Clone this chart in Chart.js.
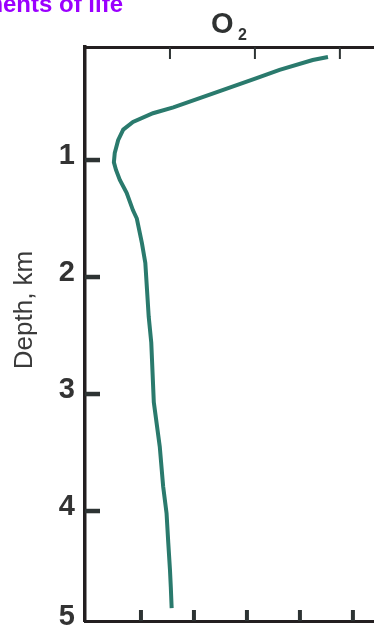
<!DOCTYPE html>
<html>
<head>
<meta charset="utf-8">
<script src="https://cdn.jsdelivr.net/npm/chart.js@4/dist/chart.umd.min.js"></script>
<style>
    html, body { margin: 0; padding: 0; overflow: hidden; background: #fff; }
    #wrap { width: 374px; height: 627px; overflow: hidden; }
</style>
</head>
<body>
<div id="wrap"><canvas id="o2Chart" width="400" height="627"></canvas></div>
<script>
// O2 profile (x: concentration, y: depth in km)
var o2Values = [2.86, 2.68, 2.29, 2.02, 1.51, 1.04, 0.80, 0.565, 0.45, 0.39, 0.35, 0.34,
    0.365, 0.41, 0.49, 0.565, 0.61, 0.67, 0.71, 0.73, 0.75, 0.78, 0.81, 0.88, 0.92, 0.96,
    0.98, 1.00, 1.01, 1.02];
var depthValues = [0.12, 0.145, 0.23, 0.30, 0.43, 0.55, 0.60, 0.675, 0.74, 0.83, 0.94, 1.02,
    1.085, 1.17, 1.28, 1.43, 1.50, 1.71, 1.88, 2.11, 2.34, 2.56, 3.07, 3.45, 3.79, 4.02,
    4.27, 4.50, 4.65, 4.83];
var depthTicks = [1, 2, 3, 4, 5];
var topTicks = [1, 2, 3];
var bottomTicks = [1, 2, 3, 4, 5];

var points = o2Values.map(function (v, i) {
    return { x: v, y: depthValues[i] };
});

// small inward tick marks + the texts around the frame
var frameExtras = {
    id: "frameExtras",
    afterDraw: function (chart) {
        var ctx = chart.ctx;
        var area = chart.chartArea;
        var sy = chart.scales.y, sx = chart.scales.x, sx2 = chart.scales.x2;
        ctx.save();
        ctx.strokeStyle = "#2d3333";

        ctx.lineWidth = 4.5;
        depthTicks.forEach(function (v) {
            if (v >= sy.max) return;
            var py = sy.getPixelForValue(v);
            ctx.beginPath();
            ctx.moveTo(area.left, py);
            ctx.lineTo(area.left + 15, py);
            ctx.stroke();
        });

        ctx.lineWidth = 2;
        topTicks.forEach(function (v) {
            var px = sx.getPixelForValue(v);
            ctx.beginPath();
            ctx.moveTo(px, area.top);
            ctx.lineTo(px, area.top + 12);
            ctx.stroke();
        });

        ctx.lineWidth = 4;
        bottomTicks.forEach(function (v) {
            var px = sx2.getPixelForValue(v);
            ctx.beginPath();
            ctx.moveTo(px, area.bottom);
            ctx.lineTo(px, area.bottom - 11);
            ctx.stroke();
        });

        // header, cut by the top-left corner
        ctx.fillStyle = "#9b00ff";
        ctx.font = "bold 24px 'Liberation Sans', Arial, sans-serif";
        ctx.textAlign = "right";
        ctx.textBaseline = "alphabetic";
        ctx.fillText("Elements of life", 123, 12);

        // O2 over the panel
        ctx.fillStyle = "#2f3232";
        ctx.font = "bold 29px 'Liberation Sans', Arial, sans-serif";
        ctx.textAlign = "left";
        ctx.fillText("O", 211, 33);
        ctx.font = "bold 16px 'Liberation Sans', Arial, sans-serif";
        ctx.fillText("2", 238, 40);

        // axis title
        ctx.fillStyle = "#3a3a3a";
        ctx.font = "26px 'Liberation Sans', Arial, sans-serif";
        ctx.translate(32, 310);
        ctx.rotate(-Math.PI / 2);
        ctx.textAlign = "center";
        ctx.fillText("Depth, km", 0, 0);
        ctx.restore();
    },
};

var ctx = document.getElementById("o2Chart").getContext("2d");
new Chart(ctx, {
    type: "scatter",
    data: {
        datasets: [
            {
                label: "O2",
                data: points,
                showLine: true,
                borderColor: "#2a7a6d",
                backgroundColor: "#2a7a6d",
                borderWidth: 4,
                pointRadius: 0,
                tension: 0,
                xAxisID: "x",
                yAxisID: "y",
            },
        ],
    },
    options: {
        responsive: false,
        animation: false,
        devicePixelRatio: 1,
        layout: { padding: { left: 0, right: 10, top: 0, bottom: 0 } },
        plugins: {
            legend: { display: false },
            tooltip: { enabled: false },
        },
        scales: {
            y: {
                type: "linear",
                position: "left",
                reverse: true,
                min: 0.034,
                max: 4.94,
                afterFit: function (s) {
                    s.width = 85;
                    s.paddingTop = 0;
                    s.paddingBottom = 0;
                },
                afterBuildTicks: function (s) {
                    s.ticks = depthTicks.map(function (v) {
                        return { value: Math.min(v, s.max) };
                    });
                },
                ticks: {
                    padding: 10,
                    labelOffset: -4,
                    color: "#333333",
                    font: { family: "'Liberation Sans', Arial, sans-serif", size: 29, weight: "bold" },
                    callback: function (v, i) { return String(depthTicks[i]); },
                },
                grid: { drawOnChartArea: false, drawTicks: false },
                border: { color: "#231f20", width: 3.5 },
            },
            x: {
                type: "linear",
                position: "top",
                min: 0,
                max: 3.59,
                afterFit: function (s) {
                    s.height = 47;
                    s.paddingLeft = 0;
                    s.paddingRight = 0;
                },
                afterBuildTicks: function (s) {
                    s.ticks = topTicks.map(function (v) { return { value: v }; });
                },
                ticks: { display: false },
                grid: { drawOnChartArea: false, drawTicks: false },
                border: { color: "#231f20", width: 3 },
            },
            x2: {
                type: "linear",
                position: "bottom",
                min: -0.056,
                max: 5.70,
                afterFit: function (s) {
                    s.height = 6;
                    s.paddingLeft = 0;
                    s.paddingRight = 0;
                },
                afterBuildTicks: function (s) {
                    s.ticks = bottomTicks.map(function (v) { return { value: v }; });
                },
                ticks: { display: false },
                grid: { drawOnChartArea: false, drawTicks: false },
                border: { color: "#231f20", width: 3 },
            },
        },
    },
    plugins: [frameExtras],
});
</script>
</body>
</html>
